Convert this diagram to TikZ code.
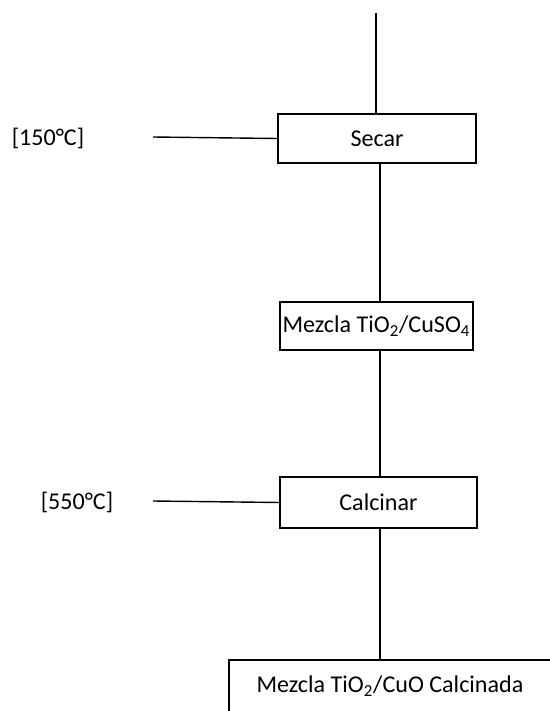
\documentclass[tikz,border=0pt]{standalone}
\usepackage{fontspec}
\setmainfont{Carlito}
\usepackage{tikz}
\usetikzlibrary{positioning}

\begin{document}
\begin{tikzpicture}[
        stepbox/.style={rectangle, draw, line width=0.8pt, minimum height=0.98cm, font=\fontsize{13.7}{16}\selectfont, inner sep=0pt},
        templbl/.style={font=\fontsize{13.7}{16}\selectfont},
        link/.style={line width=0.8pt},
    ]
        \useasboundingbox (0, 0) rectangle (11, 14.22);

        % Process boxes
        \node[stepbox, minimum width=3.96cm] (SECAR) at (7.54, 11.45) {Secar};
        \node[stepbox, minimum width=3.86cm, minimum height=0.96cm] (MEZCLA) at (7.53, 7.70) {Mezcla TiO\textsubscript{2}/CuSO\textsubscript{4}};
        \node[stepbox, minimum width=3.94cm, minimum height=1.02cm] (CALC) at (7.57, 4.17) {Calcinar};
        \node[stepbox, minimum width=6.44cm, minimum height=1.04cm] (FINAL) at (7.8, 0.50) {Mezcla TiO\textsubscript{2}/CuO Calcinada};

        % Temperatures
        \node[templbl] (T150) at (0.96, 11.46) {[150°C]};
        \node[templbl] (T550) at (1.54, 4.18) {[550°C]};
        \coordinate (IN) at (7.52, 13.96);
        \coordinate (AXIS) at (7.60, 0);
        \coordinate (H150) at (3.06, 11.48);
        \coordinate (H550) at (3.06, 4.20);

        % Main line
        \draw[link] (IN) -- (IN |- SECAR.north);
        \draw[link] (SECAR.south -| AXIS) -- (MEZCLA.north -| AXIS);
        \draw[link] (MEZCLA.south -| AXIS) -- (CALC.north -| AXIS);
        \draw[link] (CALC.south -| AXIS) -- (FINAL.north -| AXIS);

        % Heat lines
        \draw[link] (H150) -- (SECAR.west);
        \draw[link] (H550) -- (CALC.west);
    \end{tikzpicture}
\end{document}
